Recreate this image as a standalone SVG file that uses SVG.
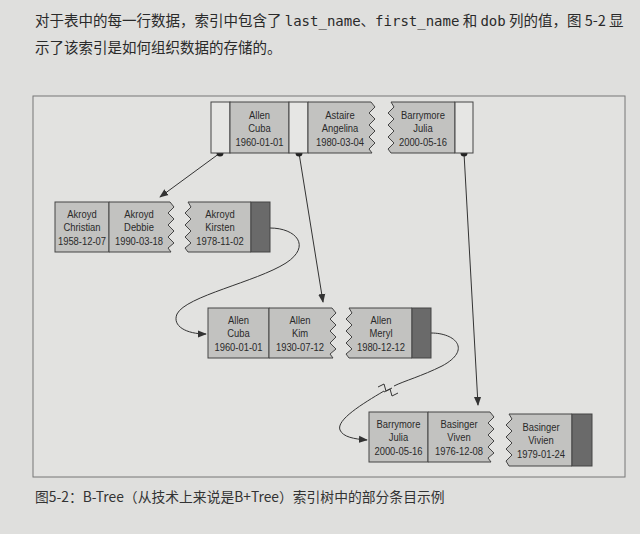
<svg xmlns="http://www.w3.org/2000/svg" width="640" height="534" viewBox="0 0 640 534">
<defs>
<style>
.key{fill:#c2c2c0;stroke:#444;stroke-width:1}
.ptr{fill:#e6e6e4;stroke:#444;stroke-width:1}
.dark{fill:#6a6a6a;stroke:#444;stroke-width:1}
.t{font-family:"Liberation Sans",Arial,sans-serif;font-size:11.5px;fill:#2a2a2a;text-anchor:middle}
.con{fill:none;stroke:#333;stroke-width:1}
.dot{fill:#222}
.body{font-family:"Noto Sans CJK SC","Noto Sans",sans-serif;font-size:14.5px;fill:#2a2a2a}
.mono{font-family:"DejaVu Sans Mono",monospace;font-size:14px}
.cap{font-family:"Noto Sans CJK SC","Noto Sans",sans-serif;font-size:13.8px;fill:#333}
</style>
<marker id="ah" viewBox="0 0 10 10" refX="9" refY="5" markerWidth="9" markerHeight="9" markerUnits="userSpaceOnUse" orient="auto">
<path d="M0,1 L10,5 L0,9 Z" fill="#333"/>
</marker>
</defs>
<rect x="0" y="0" width="640" height="534" fill="#dfdfdd"/>
<text class="body" x="35" y="26">对于表中的每一行数据，索引中包含了 <tspan class="mono">last_name</tspan>、<tspan class="mono">first_name</tspan> 和 <tspan class="mono">dob</tspan> 列的值，图 5-2 显</text>
<text class="body" x="35" y="53">示了该索引是如何组织数据的存储的。</text>
<rect id="frame" x="33" y="96" width="592" height="381" fill="#e2e2e0" stroke="#777" stroke-width="1"/>

<g id="connectors">
<line class="con" x1="220" y1="153" x2="160" y2="197" marker-end="url(#ah)"/>
<line class="con" x1="299" y1="153" x2="323" y2="302" marker-end="url(#ah)"/>
<line class="con" x1="464" y1="153" x2="478" y2="405" marker-end="url(#ah)"/>
<path class="con" d="M270,228 C296,228 312,246 286,263 C256,282 186,296 177,314 C172,326 186,334 206,334" marker-end="url(#ah)"/>
<path class="con" d="M431,333 C456,333 472,350 442,366 C422,376 404,381 394,386"/>
<path class="con" d="M384,391 C362,404 336,420 340,430 C343,437 354,439 367,440" marker-end="url(#ah)"/>
<path class="con" d="M378,387 L384,384 L386,391 L392,388 M384,392 L390,389 L392,396 L398,393"/>
<circle class="dot" cx="220" cy="153" r="3.5"/>
<circle class="dot" cx="299" cy="153" r="3.5"/>
<circle class="dot" cx="464" cy="153" r="3.5"/>
</g>

<g id="root">
<rect class="ptr" x="211" y="102" width="19" height="51"/>
<rect class="key" x="230" y="102" width="59" height="51"/>
<rect class="ptr" x="289" y="102" width="19" height="51"/>
<path class="key" d="M308,102 H371 L375,107 L369,113 L375,119 L369,125 L375,131 L369,137 L375,143 L369,149 L372,153 H308 Z"/>
<path class="key" d="M391,102 H455 V153 H391 L388,149 L394,143 L388,137 L394,131 L388,125 L394,119 L388,113 L394,107 Z"/>
<rect class="ptr" x="455" y="102" width="18" height="51"/>
<text class="t" transform="translate(259.5,0) scale(0.82,1)"><tspan x="0" y="119">Allen</tspan><tspan x="0" y="132">Cuba</tspan><tspan x="0" y="146">1960-01-01</tspan></text>
<text class="t" transform="translate(340,0) scale(0.82,1)"><tspan x="0" y="119">Astaire</tspan><tspan x="0" y="132">Angelina</tspan><tspan x="0" y="146">1980-03-04</tspan></text>
<text class="t" transform="translate(423,0) scale(0.82,1)"><tspan x="0" y="119">Barrymore</tspan><tspan x="0" y="132">Julia</tspan><tspan x="0" y="146">2000-05-16</tspan></text>
</g>

<g id="leaf-akroyd">
<rect class="key" x="55" y="202" width="54" height="50"/>
<path class="key" d="M109,202 H170 L174,207 L168,213 L174,219 L168,225 L174,231 L168,237 L174,243 L168,248 L171,252 H109 Z"/>
<path class="key" d="M188,202 H251 V252 H188 L185,248 L191,243 L185,237 L191,231 L185,225 L191,219 L185,213 L191,207 Z"/>
<rect class="dark" x="251" y="202" width="19" height="50"/>
<text class="t" transform="translate(82,0) scale(0.82,1)"><tspan x="0" y="218">Akroyd</tspan><tspan x="0" y="231">Christian</tspan><tspan x="0" y="245">1958-12-07</tspan></text>
<text class="t" transform="translate(139,0) scale(0.82,1)"><tspan x="0" y="218">Akroyd</tspan><tspan x="0" y="231">Debbie</tspan><tspan x="0" y="245">1990-03-18</tspan></text>
<text class="t" transform="translate(220,0) scale(0.82,1)"><tspan x="0" y="218">Akroyd</tspan><tspan x="0" y="231">Kirsten</tspan><tspan x="0" y="245">1978-11-02</tspan></text>
</g>

<g id="leaf-allen">
<rect class="key" x="208" y="308" width="61" height="50"/>
<path class="key" d="M269,308 H332 L336,313 L330,319 L336,325 L330,331 L336,337 L330,343 L336,349 L330,354 L333,358 H269 Z"/>
<path class="key" d="M349,308 H412 V358 H349 L346,354 L352,349 L346,343 L352,337 L346,331 L352,325 L346,319 L352,313 Z"/>
<rect class="dark" x="412" y="308" width="19" height="50"/>
<text class="t" transform="translate(238.5,0) scale(0.82,1)"><tspan x="0" y="324">Allen</tspan><tspan x="0" y="337">Cuba</tspan><tspan x="0" y="351">1960-01-01</tspan></text>
<text class="t" transform="translate(300,0) scale(0.82,1)"><tspan x="0" y="324">Allen</tspan><tspan x="0" y="337">Kim</tspan><tspan x="0" y="351">1930-07-12</tspan></text>
<text class="t" transform="translate(381,0) scale(0.82,1)"><tspan x="0" y="324">Allen</tspan><tspan x="0" y="337">Meryl</tspan><tspan x="0" y="351">1980-12-12</tspan></text>
</g>

<g id="leaf-barrymore">
<rect class="key" x="369" y="412" width="59" height="50"/>
<path class="key" d="M428,412 H490 L494,417 L488,423 L494,429 L488,435 L494,441 L488,447 L494,453 L488,458 L491,462 H428 Z"/>
<path class="key" d="M509,414 H572 V466 H509 L506,461 L512,455 L506,449 L512,443 L506,437 L512,431 L506,425 L512,419 Z"/>
<rect class="dark" x="572" y="414" width="20" height="52"/>
<text class="t" transform="translate(398.5,0) scale(0.82,1)"><tspan x="0" y="428">Barrymore</tspan><tspan x="0" y="441">Julia</tspan><tspan x="0" y="455">2000-05-16</tspan></text>
<text class="t" transform="translate(459,0) scale(0.82,1)"><tspan x="0" y="428">Basinger</tspan><tspan x="0" y="441">Viven</tspan><tspan x="0" y="455">1976-12-08</tspan></text>
<text class="t" transform="translate(541,0) scale(0.82,1)"><tspan x="0" y="431">Basinger</tspan><tspan x="0" y="444">Vivien</tspan><tspan x="0" y="458">1979-01-24</tspan></text>
</g>

<text class="cap" x="35" y="502">图5-2：B-Tree（从技术上来说是B+Tree）索引树中的部分条目示例</text>
</svg>
